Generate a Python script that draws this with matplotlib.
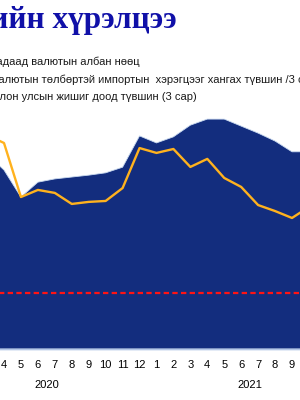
import matplotlib
matplotlib.use('Agg')
import matplotlib.pyplot as plt
import matplotlib.transforms as mtransforms

plt.rcParams['font.family'] = ['Liberation Sans', 'DejaVu Sans']

# month index: 0 = 2020/1
months = list(range(2, 22))
month_labels = [str(m) for m in range(1, 13)] * 2
years = ['2020', '2021']

# official reserves (bn USD)
reserves = [4.17, 3.83, 3.25, 3.57, 3.64, 3.68, 3.72, 3.77, 3.89, 4.56,
            4.41, 4.54, 4.79, 4.92, 4.92, 4.77, 4.62, 4.45, 4.22, 4.22]
# import coverage (months)
coverage = [11.45, 11.02, 8.13, 8.51, 8.35, 7.76, 7.87, 7.92, 8.61, 10.75,
            10.49, 10.70, 9.74, 10.17, 9.15, 8.67, 7.70, 7.38, 7.01, 7.60]
standard = 3

title = 'Гадаад валютын нөөцийн хүрэлцээ'
legend_labels = ['Гадаад валютын албан нөөц',
                 'Валютын төлбөртэй импортын  хэрэгцээг хангах түвшин /3 сарын дундаж/',
                 'Олон улсын жишиг доод түвшин (3 сар)']

fig = plt.figure(figsize=(3, 4), dpi=100)
ax = fig.add_axes([-0.1843, 0.1275, 1.3553, 0.6075])
ax2 = ax.twinx()

ax.fill_between(months, reserves, color='#132D7E', edgecolor='#C9DAF0', linewidth=0.6)
ax.set_ylim(0, 5.2)
ax2.plot(months, coverage, color='#FFB21E', linewidth=1.7)
ax2.axhline(standard, color='#FF1414', linewidth=1.6, dashes=(2.4, 1.5))
ax2.set_ylim(0, 13)

# only the months that fall inside the picture get a label
shown = range(3, 21)
ax.set_xlim(-0.5, 23.5)
ax.set_xticks(list(shown))
ax.set_xticklabels([month_labels[i] for i in shown], fontsize=8)
ax.tick_params(axis='x', length=0, pad=8)
ax.set_yticks([])
ax2.set_yticks([])
for a in (ax, ax2):
    for s in ('top', 'left', 'right'):
        a.spines[s].set_visible(False)
    a.spines['bottom'].set_color('#B4C7E7')
    a.spines['bottom'].set_linewidth(1)

trans = mtransforms.blended_transform_factory(ax.transData, ax.transAxes)
for k, yr in enumerate(years):
    ax.text(5.5 + 12 * k, -0.15, yr, transform=trans, ha='center', va='center', fontsize=8)

fig.text(177 / 300, 1 - 28 / 400, title, ha='right', va='baseline',
         fontsize=22.5, fontweight='bold', color='#1010A8', family='Liberation Serif')

for lab, yb in zip(legend_labels, [65, 83, 99.5]):
    fig.text(-9 / 300, 1 - yb / 400, lab, ha='left', va='baseline', fontsize=8, color='#1a1a1a')

fig.savefig('out.png', dpi=100)
